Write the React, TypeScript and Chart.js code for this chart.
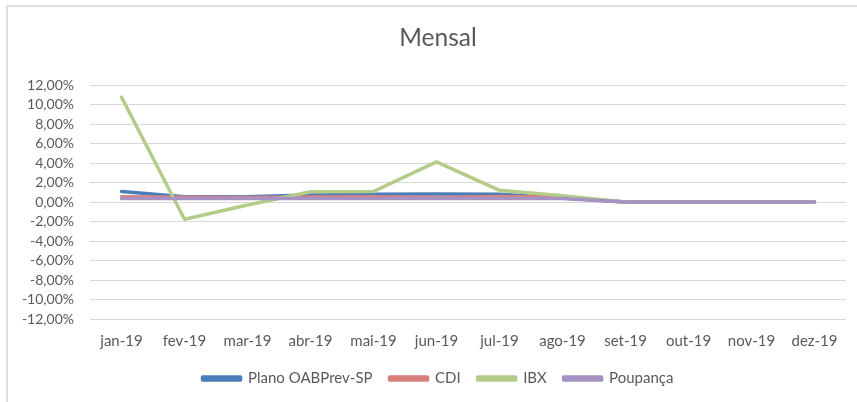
import React, { useEffect, useRef } from "react";
import { Chart, registerables } from "chart.js";

Chart.register(...registerables);

const categories = ["jan-19", "fev-19", "mar-19", "abr-19", "mai-19", "jun-19", "jul-19", "ago-19", "set-19", "out-19", "nov-19", "dez-19"];
const planoValues = [1.08, 0.55, 0.55, 0.72, 0.8, 0.82, 0.8, 0.4, 0, 0, 0, 0];
const cdiValues = [0.54, 0.49, 0.47, 0.52, 0.54, 0.47, 0.57, 0.5, 0, 0, 0, 0];
const ibxValues = [10.75, -1.77, -0.3, 1.06, 1.08, 4.12, 1.2, 0.65, 0, 0, 0, 0];
const poupancaValues = [0.37, 0.37, 0.37, 0.37, 0.37, 0.37, 0.37, 0.37, 0, 0, 0, 0];
const seriesNames = ["Plano OABPrev-SP", "CDI", "IBX", "Poupança"];
const seriesColors = ["#4a7ebb", "#d9807d", "#b3cc88", "#a691c4"];

const FONT = "Lato, 'Liberation Sans', sans-serif";

export default function App() {
  const ref = useRef<HTMLCanvasElement | null>(null);

  useEffect(() => {
    if (!ref.current) return;
    const all = [planoValues, cdiValues, ibxValues, poupancaValues];
    const chart = new Chart(ref.current, {
      type: "line",
      data: {
        labels: categories,
        datasets: all.map((d, i) => ({
          label: seriesNames[i],
          data: d,
          borderColor: seriesColors[i],
          backgroundColor: seriesColors[i],
          borderWidth: 3.5,
          pointRadius: 0,
          tension: 0,
          borderCapStyle: "round" as const,
          borderJoinStyle: "round" as const,
          order: 4 - i,
        })),
      },
      options: {
        animation: false,
        responsive: false,
        maintainAspectRatio: false,
        layout: { padding: { left: 0, right: 0, top: 0, bottom: 6 } },
        plugins: {
          title: {
            display: true,
            text: "Mensal",
            color: "#595959",
            font: { family: FONT, size: 24.5, weight: "normal" },
            padding: { top: 23, bottom: 32.6 },
          },
          legend: {
            position: "bottom",
            labels: {
              color: "#595959",
              font: { family: FONT, size: 15 },
              boxWidth: 38,
              boxHeight: 3,
              padding: 17,
              sort: (a: any, b: any) => a.datasetIndex - b.datasetIndex,
            },
          },
          tooltip: { enabled: false },
        },
        scales: {
          x: {
            offset: true,
            grid: { display: false, offset: true },
            border: { display: false },
            ticks: { color: "#595959", font: { family: FONT, size: 15 }, padding: 5, maxRotation: 0, autoSkip: false },
            afterFit: (s: any) => { s.height = 35; },
          },
          y: {
            min: -12,
            max: 12,
            grid: { color: "#d9d9d9", lineWidth: 1, drawTicks: false },
            border: { display: false },
            ticks: {
              stepSize: 2,
              autoSkip: false,
              color: "#595959",
              font: { family: FONT, size: 14 },
              padding: 16,
              callback: (v: any) => Number(v).toFixed(2).replace(".", ",") + "%",
            },
            afterFit: (s: any) => { s.width = 90; },
          },
          yRight: {
            position: "right",
            min: -12,
            max: 12,
            grid: { display: false, drawTicks: false },
            border: { display: false },
            ticks: { display: false },
            afterFit: (s: any) => { s.width = 30; },
          },
        },
      },
    });
    return () => chart.destroy();
  }, []);

  return (
    <div style={{ position: "fixed", left: 0, top: 0, width: 857, height: 402, overflow: "hidden", background: "#fff" }}>
      <div style={{ position: "absolute", left: 6, top: 5, width: 900, height: 450, borderLeft: "2px solid #dedede", borderTop: "2px solid #dedede" }} />
      <canvas ref={ref} width={876} height={402} style={{ position: "absolute", left: 0, top: 0, width: 876, height: 402 }} />
    </div>
  );
}
